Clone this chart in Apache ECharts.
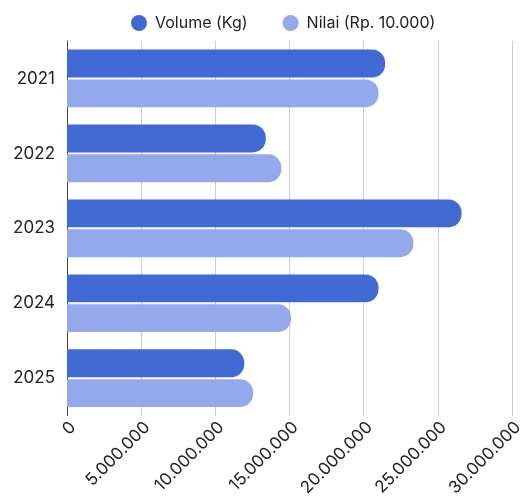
<!DOCTYPE html>
<html>
<head>
<meta charset="utf-8">
<script src="https://cdn.jsdelivr.net/npm/echarts@6/dist/echarts.min.js"></script>
<style>
  html, body { margin: 0; padding: 0; background: #fff; }
  #chart { width: 530px; height: 499px; }
</style>
</head>
<body>
<div id="chart"></div>
<script>
// data
var years = ['2021', '2022', '2023', '2024', '2025'];
var volume = [21450000, 13400000, 26600000, 21000000, 11950000];
var nilai = [21000000, 14450000, 23350000, 15100000, 12550000];
var seriesNames = ['Volume (Kg)', 'Nilai (Rp. 10.000)'];

function fmt(v) {
  return String(v).replace(/\B(?=(\d{3})+(?!\d))/g, '.');
}

var myChart = echarts.init(document.getElementById('chart'));
var option = {
  backgroundColor: '#fff',
  textStyle: { fontFamily: 'Inter' },
  legend: {
    top: 10,
    left: 126,
    icon: 'circle',
    itemWidth: 22,
    itemHeight: 16,
    itemGap: 35,
    textStyle: { fontSize: 16, color: '#222', fontFamily: 'Inter' },
    data: seriesNames
  },
  grid: { left: 67, right: 18, top: 41, bottom: 78, containLabel: false },
  xAxis: {
    type: 'value',
    min: 0,
    max: 30000000,
    interval: 5000000,
    axisLine: { show: false },
    axisTick: { show: false },
    splitLine: { lineStyle: { color: '#cccccc', width: 1 } },
    axisLabel: {
      rotate: 45,
      margin: 3,
      verticalAlign: 'top',
      fontSize: 17,
      color: '#222',
      fontFamily: 'Inter',
      formatter: fmt
    }
  },
  yAxis: {
    type: 'category',
    inverse: true,
    data: years,
    axisLine: { lineStyle: { color: '#444', width: 1 } },
    axisTick: { show: false },
    axisLabel: { fontSize: 17, color: '#222', margin: 12, fontFamily: 'Inter' }
  },
  series: [
    {
      name: seriesNames[0],
      type: 'bar',
      data: volume,
      barGap: '7%',
      barCategoryGap: '23%',
      itemStyle: { color: '#4169D4', borderRadius: [0, 13, 13, 0] }
    },
    {
      name: seriesNames[1],
      type: 'bar',
      data: nilai,
      itemStyle: { color: '#94A9EC', borderRadius: [0, 13, 13, 0] }
    }
  ]
};
option && myChart.setOption(option);
</script>
</body>
</html>
